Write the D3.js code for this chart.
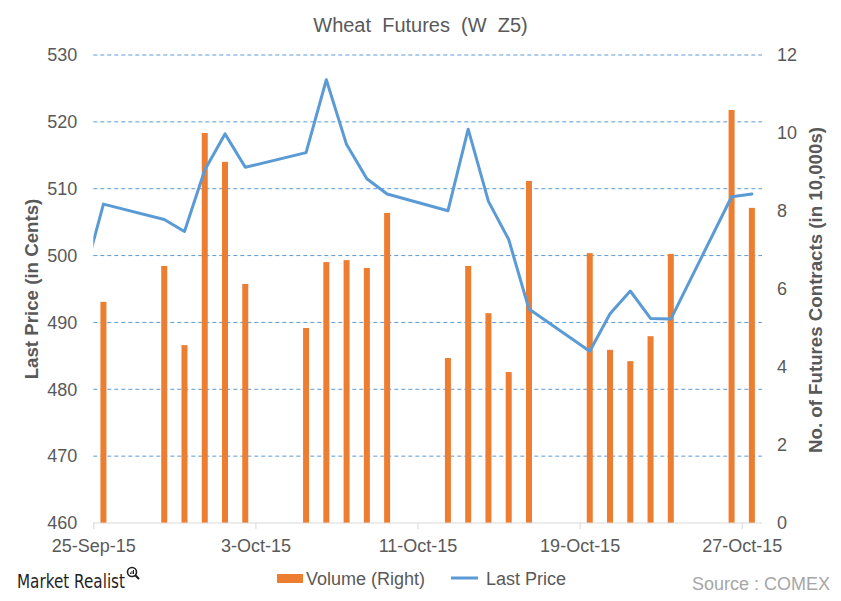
<!DOCTYPE html>
<html><head><meta charset="utf-8">
<script src="https://cdn.jsdelivr.net/npm/d3@7"></script>
<style>
html,body{margin:0;padding:0;background:#fff;}
svg{display:block;}
text{font-family:"Liberation Sans",Arial,sans-serif;}
</style></head>
<body>
<svg id="chart" width="841" height="601"></svg>
<script>
// ---- data ----
const priceDates = ["2015-09-24","2015-09-25","2015-09-28","2015-09-29","2015-09-30","2015-10-01","2015-10-02",
  "2015-10-05","2015-10-06","2015-10-07","2015-10-08","2015-10-09","2015-10-12","2015-10-13","2015-10-14",
  "2015-10-15","2015-10-16","2015-10-19","2015-10-20","2015-10-21","2015-10-22","2015-10-23","2015-10-26","2015-10-27"];
const lastPrice = [496.4,507.7,505.4,503.6,512.8,518.2,513.2,
  515.4,526.3,516.6,511.5,509.2,506.7,518.9,508.1,
  502.4,492.0,485.7,491.3,494.7,490.6,490.5,508.8,509.2];
const volumeDates = priceDates.slice(1);
const volume = [5.67,6.59,4.56,10.0,9.26,6.13,
  5.0,6.69,6.74,6.54,7.95,4.23,6.59,5.38,
  3.87,8.77,6.92,4.44,4.15,4.79,6.90,10.59,8.08];
const leftTicks = [460,470,480,490,500,510,520,530];
const rightTicks = [0,2,4,6,8,10,12];
const xTickDates = ["2015-09-25","2015-10-03","2015-10-11","2015-10-19","2015-10-27"];
const xDomain = ["2015-09-25","2015-10-28"];

// ---- layout ----
const L = 93.3, R = 762, T = 55, B = 523;
const parse = d3.utcParse("%Y-%m-%d");
const svg = d3.select("#chart");
const txt = "#595959";

const x = d3.scaleUtc().domain(xDomain.map(parse)).range([L, R]);
const yL = d3.scaleLinear().domain([460,530]).range([B, T]);
const yR = d3.scaleLinear().domain([0,12]).range([B, T]);
const halfDay = (x(parse("2015-09-26")) - x(parse("2015-09-25"))) / 2;
const cx = s => x(parse(s)) + halfDay;

// gridlines
svg.append("g").selectAll("line").data(leftTicks.filter(d => d > 460)).join("line")
  .attr("x1", L).attr("x2", R).attr("y1", d => yL(d)).attr("y2", d => yL(d))
  .attr("stroke", "#5B9BD5").attr("stroke-width", 1).attr("stroke-dasharray", "4,3");

// bars
const bw = 6;
svg.append("g").selectAll("rect").data(volumeDates.map((d,i)=>({d, v: volume[i]}))).join("rect")
  .attr("x", d => cx(d.d) - bw/2).attr("width", bw)
  .attr("y", d => yR(d.v)).attr("height", d => B - yR(d.v))
  .attr("fill", "#ED7D31");

// clip for line
svg.append("clipPath").attr("id","clip").append("rect")
  .attr("x", L).attr("y", 0).attr("width", R - L).attr("height", B);

// line
const line = d3.line().x(d => cx(d.d)).y(d => yL(d.v));
svg.append("path").datum(priceDates.map((d,i)=>({d, v:lastPrice[i]})))
  .attr("clip-path","url(#clip)")
  .attr("d", line).attr("fill","none").attr("stroke","#5B9BD5")
  .attr("stroke-width", 3).attr("stroke-linejoin","round").attr("stroke-linecap","round");

// x axis
svg.append("line").attr("x1", L).attr("x2", R).attr("y1", B).attr("y2", B)
  .attr("stroke", "#D9D9D9").attr("stroke-width", 1);
const xa = svg.append("g").attr("transform", `translate(0,${B})`)
  .call(d3.axisBottom(x).tickValues(xTickDates.map(parse)).tickFormat(d3.utcFormat("%-d-%b-%y"))
    .tickSize(6).tickSizeOuter(0));
xa.select(".domain").remove();
xa.selectAll(".tick line").attr("stroke", "#D9D9D9");
xa.selectAll(".tick text").attr("y", 29).attr("dy", 0)
  .attr("fill", txt).style("font-size", "18px").style("font-family", '"Liberation Sans",Arial,sans-serif');

// left axis
const la = svg.append("g").attr("transform", `translate(${L},0)`)
  .call(d3.axisLeft(yL).tickValues(leftTicks).tickSize(0).tickPadding(16));
la.select(".domain").remove();
la.selectAll("text").attr("fill", txt).style("font-size","18px").style("font-family", '"Liberation Sans",Arial,sans-serif');

// right axis
const ra = svg.append("g").attr("transform", `translate(${R},0)`)
  .call(d3.axisRight(yR).tickValues(rightTicks).tickSize(0).tickPadding(15));
ra.select(".domain").remove();
ra.selectAll("text").attr("fill", txt).style("font-size","18px").style("font-family", '"Liberation Sans",Arial,sans-serif');

// title
svg.append("text").attr("x", 420.5).attr("y", 31.7).attr("text-anchor","middle")
  .attr("fill", txt).style("font-size","20px").style("white-space","pre")
  .text("Wheat  Futures  (W  Z5)");

// axis titles
svg.append("text").attr("transform","translate(38,289) rotate(-90)").attr("text-anchor","middle")
  .attr("fill", txt).style("font-size","18.7px").style("font-weight","bold")
  .text("Last Price (in Cents)");
svg.append("text").attr("transform","translate(822,290) rotate(-90)").attr("text-anchor","middle")
  .attr("fill", txt).style("font-size","18.7px").style("font-weight","bold")
  .text("No. of Futures Contracts (in 10,000s)");

// legend
svg.append("rect").attr("x", 277).attr("y", 574).attr("width", 26).attr("height", 9).attr("fill","#ED7D31");
svg.append("text").attr("x", 306).attr("y", 584.5).attr("fill", txt).style("font-size","18px").text("Volume (Right)");
svg.append("line").attr("x1", 451).attr("x2", 478).attr("y1", 578).attr("y2", 578)
  .attr("stroke","#5B9BD5").attr("stroke-width",3);
svg.append("text").attr("x", 486).attr("y", 584.5).attr("fill", txt).style("font-size","18px").text("Last Price");

// source
svg.append("text").attr("x", 830).attr("y", 590).attr("text-anchor","end")
  .attr("fill","#A6A6A6").style("font-size","18px").text("Source : COMEX");

// logo
svg.append("text").attr("x", 17).attr("y", 588).attr("fill","#1f1f1f")
  .style("font-family",'"DejaVu Sans",sans-serif').style("font-size","19px")
  .attr("textLength", 108).attr("lengthAdjust","spacingAndGlyphs").text("Market Realist");
const lg = svg.append("g").attr("stroke","#1f1f1f");
lg.append("circle").attr("cx", 132).attr("cy", 572).attr("r", 4.5).attr("fill","none").attr("stroke-width",1.6);
lg.append("line").attr("x1",135.3).attr("y1",575.3).attr("x2",139).attr("y2",579).attr("stroke-width",2.2);
lg.append("line").attr("x1",130.5).attr("y1",574).attr("x2",130.5).attr("y2",572.5).attr("stroke-width",1);
lg.append("line").attr("x1",132).attr("y1",574).attr("x2",132).attr("y2",571).attr("stroke-width",1);
lg.append("line").attr("x1",133.5).attr("y1",574).attr("x2",133.5).attr("y2",570).attr("stroke-width",1);
</script>
</body></html>
